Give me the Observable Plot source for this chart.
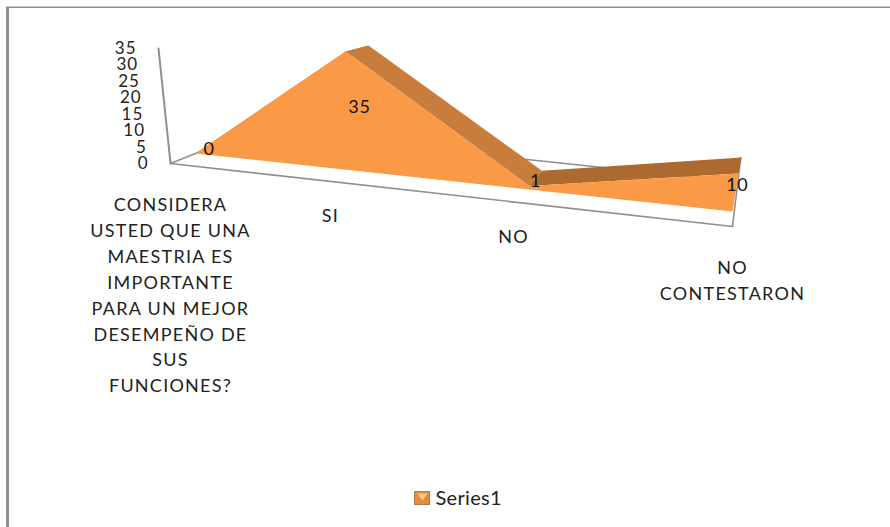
<!DOCTYPE html>
<html>
<head>
<meta charset="utf-8">
<style>
  html, body { margin: 0; padding: 0; background: #fff; }
  svg { display: block; }
</style>
<script src="https://cdn.jsdelivr.net/npm/d3@7"></script>
<script src="https://cdn.jsdelivr.net/npm/@observablehq/plot@0.6"></script>
</head>
<body>
<script>
// Survey answers shown as a 3-D area chart.
const categories = [
  "CONSIDERA\nUSTED QUE UNA\nMAESTRIA ES\nIMPORTANTE\nPARA UN MEJOR\nDESEMPEÑO DE\nSUS\nFUNCIONES?",
  "SI",
  "NO",
  "NO\nCONTESTARON"
];
const values = [0, 35, 1, 10];
const yTicks = [0, 5, 10, 15, 20, 25, 30, 35];
const seriesName = "Series1";
const yMax = 35;

// Camera: each depth plane is the screen outline of the value box at that depth.
const planes = {
  axis:  {bl: [170, 163], br: [732, 226], tl: [158, 48],  tr: [748, 92]},
  front: {bl: [195, 153], br: [732, 211], tl: [178, 40],  tr: [753, 78]},
  back:  {bl: [222, 142], br: [736, 193], tl: [210, 36],  tr: [753.5, 67]},
  wall:  {bl: [252, 130], br: [735, 181], tl: [252, 20],  tr: [735, 60]}
};
const foreshortening = 1.22;

const lerp = (a, b, t) => [a[0] + (b[0] - a[0]) * t, a[1] + (b[1] - a[1]) * t];

// Projects (category index, value, plane) to page position.
function project(u, v, plane) {
  const w = u / (categories.length - 1);
  const t = w / (w + foreshortening * (1 - w));
  const p = planes[plane];
  return lerp(lerp(p.bl, p.br, t), lerp(p.tl, p.tr, t), v / yMax);
}

// Depth centre of the slab, where the value labels sit.
const mid = (u, v) => lerp(project(u, v, "front"), project(u, v, "back"), 0.5);

const polygon = (pts) => pts.map(([x, y]) => ({x, y}));
const last = categories.length - 1;

const frontFace = polygon([
  project(0, 0, "front"),
  ...values.map((v, i) => project(i, v, "front")),
  project(last, 0, "front")
]);
const topFace = (i) => polygon([
  project(i, values[i], "front"),
  project(i + 1, values[i + 1], "front"),
  project(i + 1, values[i + 1], "back"),
  project(i, values[i], "back")
]);

const segment = (a, b) => polygon([a, b]);

const tickRows = yTicks.map((v) => {
  const [x, y] = project(0, v, "axis");
  return {x: x - 22, y, label: String(v)};
});
const valueRows = values.map((v, i) => {
  const [x, y] = mid(i, v / 2);
  return {x, y: y + 1, label: String(v)};
});
// Category captions hang below the floor's front edge.
const captionAnchor = [[170, 192], [330, 203.5], [513, 224.5], [732, 255]];
const captionRows = categories.map((label, i) => ({x: captionAnchor[i][0], y: captionAnchor[i][1], label}));

const grey = "#8f8f8f";
const axisLine = (pts, w = 1.6) => Plot.line(pts, {x: "x", y: "y", stroke: grey, strokeWidth: w});
const face = (pts, fill) => Plot.line(pts, {x: "x", y: "y", fill, stroke: "none", curve: "linear-closed"});

// Widens the tracking of a text mark's group.
const tracked = (px) => (index, scales, values, dims, context, next) => {
  const g = next(index, scales, values, dims, context);
  g.setAttribute("letter-spacing", px);
  return g;
};

const chart = Plot.plot({
  width: 890,
  height: 527,
  margin: 0,
  x: {domain: [0, 890], range: [0, 890], axis: null},
  y: {domain: [0, 527], range: [0, 527], axis: null},
  style: {background: "#fff", fontFamily: "Lato, sans-serif"},
  marks: [
    // page frame
    Plot.rect([{}], {x1: 6, x2: 9, y1: 7, y2: 527, fill: grey}),
    Plot.rect([{}], {x1: 6, x2: 890, y1: 6.5, y2: 8, fill: grey}),

    // floor and walls
    axisLine(segment(project(0, 0, "wall"), project(last, 0, "wall")), 1.4),
    axisLine(segment(project(0, 0, "axis"), project(0, 0, "wall")), 1.4),
    axisLine(segment(project(0, 0, "axis"), project(0, yMax, "axis")), 2),
    axisLine(segment(project(0, 0, "axis"), project(last, 0, "axis"))),
    axisLine(segment(project(last, 0, "axis"), project(last, 18, "axis"))),

    // top of the slab, then its front face
    face(topFace(0), "#c97d3c"),
    face(topFace(1), "#c97d3c"),
    face(topFace(2), "#ad6a30"),
    face(frontFace, "#fb9a46"),

    Plot.text(tickRows, {x: "x", y: "y", text: "label", textAnchor: "end", fontSize: 17, fill: "#222", render: tracked(1)}),
    Plot.text(valueRows, {x: "x", y: "y", text: "label", fontSize: 18, fill: "#111", render: tracked(0.6)}),
    Plot.text(captionRows, {
      x: "x", y: "y", text: "label", lineAnchor: "top", lineHeight: 1.44,
      fontSize: 18, fill: "#222", textAnchor: "middle", render: tracked(1.25)
    }),

    // legend
    Plot.rect([{}], {x1: 414.5, x2: 429.5, y1: 491.5, y2: 504.5, fill: "#e88c3c", stroke: "#a87c50", strokeWidth: 1}),
    Plot.line(polygon([[417, 493], [427, 493], [422, 500]]), {x: "x", y: "y", fill: "#fbc88a", stroke: "none", curve: "linear-closed"}),
    Plot.text([seriesName], {x: 435, y: 498, text: (d) => d, textAnchor: "start", fontSize: 20, fill: "#222", render: tracked(0.3)})
  ]
});
document.body.append(chart);
</script>
</body>
</html>
